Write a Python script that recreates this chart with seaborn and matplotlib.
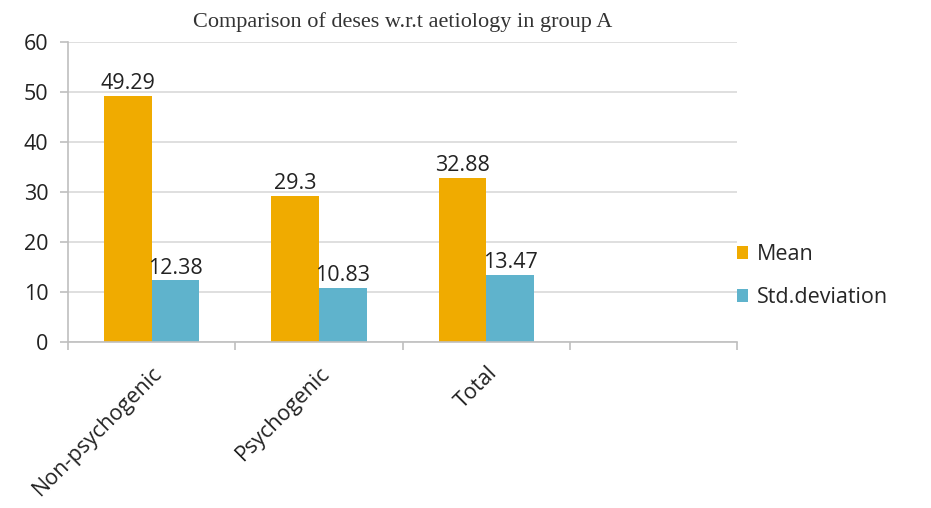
import matplotlib
matplotlib.use("Agg")
import matplotlib.pyplot as plt
import seaborn as sns
import pandas as pd
import numpy as np

categories = ["Non-psychogenic", "Psychogenic", "Total"]
mean_values = [49.29, 29.3, 32.88]
std_values = [12.38, 10.83, 13.47]
series_names = ["Mean", "Std.deviation"]
y_ticks = [0, 10, 20, 30, 40, 50, 60]
colors = ["#F0AB00", "#5FB3CC"]

df = pd.DataFrame({
    "category": categories * 2,
    "value": mean_values + std_values,
    "series": [series_names[0]] * 3 + [series_names[1]] * 3,
})

sns.set_theme(style="white")
plt.rcParams["font.family"] = ["Open Sans", "DejaVu Sans"]

fig = plt.figure(figsize=(9.31, 5.08), dpi=100)
ax = fig.add_axes([0.073, 0.327, 0.719, 0.59])

sns.barplot(data=df, x="category", y="value", hue="series", order=categories,
            palette=colors, width=0.57, saturation=1, ax=ax, legend=True,
            linewidth=0)

ax.set_xlim(-0.5, 3.5)
ax.set_ylim(0, 60)
ax.set_yticks(y_ticks)
ax.set_yticklabels([str(v) for v in y_ticks], fontsize=15.5, color="#222222")
ax.yaxis.grid(True, color="#d9d9d9", linewidth=1.2)
ax.set_axisbelow(True)
ax.tick_params(axis="y", length=6, color="#bfbfbf", width=1.2, pad=8, left=True)

ax.set_xticks([0, 1, 2])
ax.set_xticklabels(categories, rotation=45, ha="right", rotation_mode="anchor",
                   fontsize=15.5, color="#222222")
ax.tick_params(axis="x", length=0, pad=15)
ax.set_xticks([-0.5, 0.5, 1.5, 2.5, 3.5], minor=True)
ax.tick_params(axis="x", which="minor", length=6, color="#bfbfbf", width=1.2, bottom=True)

ax.set_xlabel("")
ax.set_ylabel("")
for s in ["top", "right"]:
    ax.spines[s].set_visible(False)
for s in ["left", "bottom"]:
    ax.spines[s].set_color("#bfbfbf")
    ax.spines[s].set_linewidth(1.2)

for container in ax.containers:
    ax.bar_label(container, labels=[f"{v:g}" for v in container.datavalues],
                 padding=1, fontsize=15.5, color="#222222")

ax.set_title("Comparison of deses w.r.t aetiology in group A",
             family="Liberation Serif", fontsize=16, color="#333333", pad=11)

leg = ax.legend(loc="center left", bbox_to_anchor=(0.97, 0.22), frameon=False,
                fontsize=15.5, handlelength=0.55, handleheight=0.55, handletextpad=0.4,
                labelspacing=1.0)

fig.savefig("out.png", dpi=100)
